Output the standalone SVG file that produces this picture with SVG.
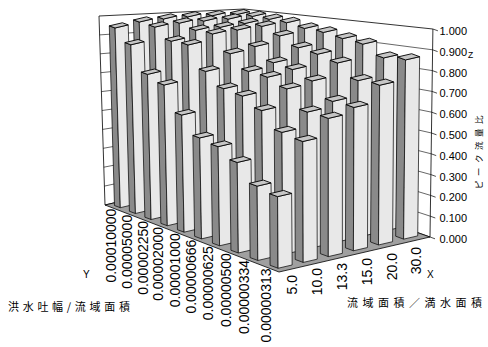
<svg xmlns="http://www.w3.org/2000/svg" width="488" height="347" viewBox="0 0 488 347">
<style>
.d{fill:#8a8a8a;stroke:#000;stroke-width:.7;stroke-linejoin:round}
.l{fill:#e8e8e8;stroke:#000;stroke-width:.7;stroke-linejoin:round}
.t{fill:#c6c6c6;stroke:#000;stroke-width:.9;stroke-linejoin:round}
.wall{fill:#fff;stroke:#000;stroke-width:.8}
.grid{fill:none;stroke:#000;stroke-width:.6}
.floor{fill:#a0a0a0;stroke:#000;stroke-width:.8}
.tick{stroke:#000;stroke-width:.7}
.num{font-family:"Liberation Sans",Arial,sans-serif;font-size:11px;fill:#000}
.ax{font-family:"Liberation Sans",Arial,sans-serif;font-size:14px;fill:#000}
.let{font-family:"Liberation Sans",Arial,sans-serif;font-size:10px;fill:#000}
.jp{font-family:"Noto Sans CJK JP","Noto Sans CJK SC",sans-serif;font-size:11px;fill:#000}
</style>
<rect width="488" height="347" fill="#fff"/>
<g id="walls">
<polygon class="wall" points="105,205 246,172 244.1,9 99,16"/>
<polygon class="wall" points="246,172 430,237 432.9,29 244.1,9"/>
<polyline class="grid" points="104.4,186.1 245.8,155.7 430.3,216.2"/>
<polyline class="grid" points="103.8,167.2 245.6,139.4 430.6,195.4"/>
<polyline class="grid" points="103.2,148.3 245.4,123.1 430.9,174.6"/>
<polyline class="grid" points="102.6,129.4 245.2,106.8 431.2,153.8"/>
<polyline class="grid" points="102.0,110.5 245.0,90.5 431.5,133.0"/>
<polyline class="grid" points="101.4,91.6 244.9,74.2 431.7,112.2"/>
<polyline class="grid" points="100.8,72.7 244.7,57.9 432.0,91.4"/>
<polyline class="grid" points="100.2,53.8 244.5,41.6 432.3,70.6"/>
<polyline class="grid" points="99.6,34.9 244.3,25.3 432.6,49.8"/>
</g>
<g id="floor"><polygon class="floor" points="279,272 430,237 246,172 105,205"/></g>
<g id="z-axis">
<line class="tick" x1="432.9" y1="29" x2="437.9" y2="30.8"/>
<line class="tick" x1="432.6" y1="49.8" x2="437.6" y2="51.6"/>
<line class="tick" x1="432.3" y1="70.6" x2="437.3" y2="72.4"/>
<line class="tick" x1="432.0" y1="91.4" x2="437.0" y2="93.2"/>
<line class="tick" x1="431.7" y1="112.2" x2="436.7" y2="114"/>
<line class="tick" x1="431.5" y1="133" x2="436.5" y2="134.8"/>
<line class="tick" x1="431.2" y1="153.8" x2="436.2" y2="155.6"/>
<line class="tick" x1="430.9" y1="174.6" x2="435.9" y2="176.4"/>
<line class="tick" x1="430.6" y1="195.4" x2="435.6" y2="197.2"/>
<line class="tick" x1="430.3" y1="216.2" x2="435.3" y2="218"/>
<line class="tick" x1="430" y1="237" x2="435" y2="238.8"/>
<text class="num" x="439.5" y="35">1.000</text>
<text class="num" x="439.5" y="55.8">0.900</text>
<text class="num" x="439.5" y="76.6">0.800</text>
<text class="num" x="439.5" y="97.4">0.700</text>
<text class="num" x="439.5" y="118.2">0.600</text>
<text class="num" x="439.5" y="139">0.500</text>
<text class="num" x="439.5" y="159.8">0.400</text>
<text class="num" x="439.5" y="180.6">0.300</text>
<text class="num" x="439.5" y="201.4">0.200</text>
<text class="num" x="439.5" y="222.2">0.100</text>
<text class="num" x="439.5" y="243">0.000</text>
<text class="let" x="468" y="58" style="font-size:8.5px">Z</text>
<text class="jp" transform="translate(482.2 150) rotate(-90)" text-anchor="middle" style="font-size:8.5px;letter-spacing:4.5px">ピーク流量比</text>
</g>
<g id="bars">
<g id="bar-r9-c0" transform="translate(120.31 207.68) skewX(1.66)"><path class="d" d="M0 0l-5.75-2.13v-179.7l5.75 2.13z"/><path class="l" d="M0 0l13.21-3.09v-179.7l-13.21 3.09z"/><path class="t" d="M0-179.7l13.21-3.09l-5.75-2.13l-13.21 3.09z"/></g>
<g id="bar-r9-c1" transform="translate(143.91 202.16) skewX(1.47)"><path class="d" d="M0 0l-5.75-2.13v-180.1l5.75 2.13z"/><path class="l" d="M0 0l13.21-3.09v-180.1l-13.21 3.09z"/><path class="t" d="M0-180.1l13.21-3.09l-5.75-2.13l-13.21 3.09z"/></g>
<g id="bar-r9-c2" transform="translate(167.5 196.64) skewX(1.28)"><path class="d" d="M0 0l-5.75-2.13v-177.6l5.75 2.13z"/><path class="l" d="M0 0l13.21-3.09v-177.6l-13.21 3.09z"/><path class="t" d="M0-177.6l13.21-3.09l-5.75-2.13l-13.21 3.09z"/></g>
<g id="bar-r9-c3" transform="translate(191.1 191.12) skewX(1.09)"><path class="d" d="M0 0l-5.75-2.13v-174.2l5.75 2.13z"/><path class="l" d="M0 0l13.21-3.09v-174.2l-13.21 3.09z"/><path class="t" d="M0-174.2l13.21-3.09l-5.75-2.13l-13.21 3.09z"/></g>
<g id="bar-r9-c4" transform="translate(214.7 185.6) skewX(0.9)"><path class="d" d="M0 0l-5.75-2.13v-169.8l5.75 2.13z"/><path class="l" d="M0 0l13.21-3.09v-169.8l-13.21 3.09z"/><path class="t" d="M0-169.8l13.21-3.09l-5.75-2.13l-13.21 3.09z"/></g>
<g id="bar-r9-c5" transform="translate(238.29 180.09) skewX(0.71)"><path class="d" d="M0 0l-5.75-2.13v-165.4l5.75 2.13z"/><path class="l" d="M0 0l13.21-3.09v-165.4l-13.21 3.09z"/><path class="t" d="M0-165.4l13.21-3.09l-5.75-2.13l-13.21 3.09z"/></g>

<g id="bar-r8-c0" transform="translate(135.44 213.49) skewX(1.54)"><path class="d" d="M0 0l-5.95-2.2v-168.7l5.95 2.2z"/><path class="l" d="M0 0l13.3-3.11v-168.7l-13.3 3.11z"/><path class="t" d="M0-168.7l13.3-3.11l-5.95-2.2l-13.3 3.11z"/></g>
<g id="bar-r8-c1" transform="translate(159.18 207.94) skewX(1.35)"><path class="d" d="M0 0l-5.95-2.2v-180.8l5.95 2.2z"/><path class="l" d="M0 0l13.3-3.11v-180.8l-13.3 3.11z"/><path class="t" d="M0-180.8l13.3-3.11l-5.95-2.2l-13.3 3.11z"/></g>
<g id="bar-r8-c2" transform="translate(182.92 202.39) skewX(1.16)"><path class="d" d="M0 0l-5.95-2.2v-179.2l5.95 2.2z"/><path class="l" d="M0 0l13.3-3.11v-179.2l-13.3 3.11z"/><path class="t" d="M0-179.2l13.3-3.11l-5.95-2.2l-13.3 3.11z"/></g>
<g id="bar-r8-c3" transform="translate(206.67 196.84) skewX(0.96)"><path class="d" d="M0 0l-5.95-2.2v-175.7l5.95 2.2z"/><path class="l" d="M0 0l13.3-3.11v-175.7l-13.3 3.11z"/><path class="t" d="M0-175.7l13.3-3.11l-5.95-2.2l-13.3 3.11z"/></g>
<g id="bar-r8-c4" transform="translate(230.41 191.3) skewX(0.77)"><path class="d" d="M0 0l-5.95-2.2v-172.1l5.95 2.2z"/><path class="l" d="M0 0l13.3-3.11v-172.1l-13.3 3.11z"/><path class="t" d="M0-172.1l13.3-3.11l-5.95-2.2l-13.3 3.11z"/></g>
<g id="bar-r8-c5" transform="translate(254.15 185.75) skewX(0.58)"><path class="d" d="M0 0l-5.95-2.2v-169.3l5.95 2.2z"/><path class="l" d="M0 0l13.3-3.11v-169.3l-13.3 3.11z"/><path class="t" d="M0-169.3l13.3-3.11l-5.95-2.2l-13.3 3.11z"/></g>

<g id="bar-r7-c0" transform="translate(151.09 219.5) skewX(1.41)"><path class="d" d="M0 0l-6.15-2.28v-145.1l6.15 2.28z"/><path class="l" d="M0 0l13.38-3.12v-145.1l-13.38 3.12z"/><path class="t" d="M0-145.1l13.38-3.12l-6.15-2.28l-13.38 3.12z"/></g>
<g id="bar-r7-c1" transform="translate(174.98 213.92) skewX(1.22)"><path class="d" d="M0 0l-6.15-2.28v-172.7l6.15 2.28z"/><path class="l" d="M0 0l13.38-3.12v-172.7l-13.38 3.12z"/><path class="t" d="M0-172.7l13.38-3.12l-6.15-2.28l-13.38 3.12z"/></g>
<g id="bar-r7-c2" transform="translate(198.87 208.34) skewX(1.03)"><path class="d" d="M0 0l-6.15-2.28v-178l6.15 2.28z"/><path class="l" d="M0 0l13.38-3.12v-178l-13.38 3.12z"/><path class="t" d="M0-178l13.38-3.12l-6.15-2.28l-13.38 3.12z"/></g>
<g id="bar-r7-c3" transform="translate(222.76 202.77) skewX(0.84)"><path class="d" d="M0 0l-6.15-2.28v-175.4l6.15 2.28z"/><path class="l" d="M0 0l13.38-3.12v-175.4l-13.38 3.12z"/><path class="t" d="M0-175.4l13.38-3.12l-6.15-2.28l-13.38 3.12z"/></g>
<g id="bar-r7-c4" transform="translate(246.65 197.19) skewX(0.64)"><path class="d" d="M0 0l-6.15-2.28v-173.6l6.15 2.28z"/><path class="l" d="M0 0l13.38-3.12v-173.6l-13.38 3.12z"/><path class="t" d="M0-173.6l13.38-3.12l-6.15-2.28l-13.38 3.12z"/></g>
<g id="bar-r7-c5" transform="translate(270.55 191.61) skewX(0.45)"><path class="d" d="M0 0l-6.15-2.28v-172.2l6.15 2.28z"/><path class="l" d="M0 0l13.38-3.12v-172.2l-13.38 3.12z"/><path class="t" d="M0-172.2l13.38-3.12l-6.15-2.28l-13.38 3.12z"/></g>

<g id="bar-r6-c0" transform="translate(167.3 225.72) skewX(1.28)"><path class="d" d="M0 0l-6.37-2.36v-140.7l6.37 2.36z"/><path class="l" d="M0 0l13.47-3.14v-140.7l-13.47 3.14z"/><path class="t" d="M0-140.7l13.47-3.14l-6.37-2.36l-13.47 3.14z"/></g>
<g id="bar-r6-c1" transform="translate(191.35 220.11) skewX(1.09)"><path class="d" d="M0 0l-6.37-2.36v-175.1l6.37 2.36z"/><path class="l" d="M0 0l13.47-3.14v-175.1l-13.47 3.14z"/><path class="t" d="M0-175.1l13.47-3.14l-6.37-2.36l-13.47 3.14z"/></g>
<g id="bar-r6-c2" transform="translate(215.39 214.5) skewX(0.9)"><path class="d" d="M0 0l-6.37-2.36v-180.5l6.37 2.36z"/><path class="l" d="M0 0l13.47-3.14v-180.5l-13.47 3.14z"/><path class="t" d="M0-180.5l13.47-3.14l-6.37-2.36l-13.47 3.14z"/></g>
<g id="bar-r6-c3" transform="translate(239.44 208.89) skewX(0.7)"><path class="d" d="M0 0l-6.37-2.36v-178.8l6.37 2.36z"/><path class="l" d="M0 0l13.47-3.14v-178.8l-13.47 3.14z"/><path class="t" d="M0-178.8l13.47-3.14l-6.37-2.36l-13.47 3.14z"/></g>
<g id="bar-r6-c4" transform="translate(263.48 203.28) skewX(0.51)"><path class="d" d="M0 0l-6.37-2.36v-176.9l6.37 2.36z"/><path class="l" d="M0 0l13.47-3.14v-176.9l-13.47 3.14z"/><path class="t" d="M0-176.9l13.47-3.14l-6.37-2.36l-13.47 3.14z"/></g>
<g id="bar-r6-c5" transform="translate(287.53 197.67) skewX(0.32)"><path class="d" d="M0 0l-6.37-2.36v-174.9l6.37 2.36z"/><path class="l" d="M0 0l13.47-3.14v-174.9l-13.47 3.14z"/><path class="t" d="M0-174.9l13.47-3.14l-6.37-2.36l-13.47 3.14z"/></g>

<g id="bar-r5-c0" transform="translate(184.1 232.17) skewX(1.15)"><path class="d" d="M0 0l-6.61-2.45v-117.1l6.61 2.45z"/><path class="l" d="M0 0l13.56-3.16v-117.1l-13.56 3.16z"/><path class="t" d="M0-117.1l13.56-3.16l-6.61-2.45l-13.56 3.16z"/></g>
<g id="bar-r5-c1" transform="translate(208.31 226.53) skewX(0.95)"><path class="d" d="M0 0l-6.61-2.45v-155.1l6.61 2.45z"/><path class="l" d="M0 0l13.56-3.16v-155.1l-13.56 3.16z"/><path class="t" d="M0-155.1l13.56-3.16l-6.61-2.45l-13.56 3.16z"/></g>
<g id="bar-r5-c2" transform="translate(232.51 220.89) skewX(0.76)"><path class="d" d="M0 0l-6.61-2.45v-167.2l6.61 2.45z"/><path class="l" d="M0 0l13.56-3.16v-167.2l-13.56 3.16z"/><path class="t" d="M0-167.2l13.56-3.16l-6.61-2.45l-13.56 3.16z"/></g>
<g id="bar-r5-c3" transform="translate(256.72 215.25) skewX(0.56)"><path class="d" d="M0 0l-6.61-2.45v-168.7l6.61 2.45z"/><path class="l" d="M0 0l13.56-3.16v-168.7l-13.56 3.16z"/><path class="t" d="M0-168.7l13.56-3.16l-6.61-2.45l-13.56 3.16z"/></g>
<g id="bar-r5-c4" transform="translate(280.93 209.61) skewX(0.37)"><path class="d" d="M0 0l-6.61-2.45v-173.7l6.61 2.45z"/><path class="l" d="M0 0l13.56-3.16v-173.7l-13.56 3.16z"/><path class="t" d="M0-173.7l13.56-3.16l-6.61-2.45l-13.56 3.16z"/></g>
<g id="bar-r5-c5" transform="translate(305.14 203.97) skewX(0.18)"><path class="d" d="M0 0l-6.61-2.45v-175.5l6.61 2.45z"/><path class="l" d="M0 0l13.56-3.16v-175.5l-13.56 3.16z"/><path class="t" d="M0-175.5l13.56-3.16l-6.61-2.45l-13.56 3.16z"/></g>

<g id="bar-r4-c0" transform="translate(201.51 238.85) skewX(1.01)"><path class="d" d="M0 0l-6.85-2.54v-100.9l6.85 2.54z"/><path class="l" d="M0 0l13.65-3.18v-100.9l-13.65 3.18z"/><path class="t" d="M0-100.9l13.65-3.18l-6.85-2.54l-13.65 3.18z"/></g>
<g id="bar-r4-c1" transform="translate(225.88 233.18) skewX(0.81)"><path class="d" d="M0 0l-6.85-2.54v-144.5l6.85 2.54z"/><path class="l" d="M0 0l13.65-3.18v-144.5l-13.65 3.18z"/><path class="t" d="M0-144.5l13.65-3.18l-6.85-2.54l-13.65 3.18z"/></g>
<g id="bar-r4-c2" transform="translate(250.26 227.5) skewX(0.62)"><path class="d" d="M0 0l-6.85-2.54v-156.1l6.85 2.54z"/><path class="l" d="M0 0l13.65-3.18v-156.1l-13.65 3.18z"/><path class="t" d="M0-156.1l13.65-3.18l-6.85-2.54l-13.65 3.18z"/></g>
<g id="bar-r4-c3" transform="translate(274.63 221.83) skewX(0.42)"><path class="d" d="M0 0l-6.85-2.54v-159.1l6.85 2.54z"/><path class="l" d="M0 0l13.65-3.18v-159.1l-13.65 3.18z"/><path class="t" d="M0-159.1l13.65-3.18l-6.85-2.54l-13.65 3.18z"/></g>
<g id="bar-r4-c4" transform="translate(299 216.15) skewX(0.22)"><path class="d" d="M0 0l-6.85-2.54v-168.4l6.85 2.54z"/><path class="l" d="M0 0l13.65-3.18v-168.4l-13.65 3.18z"/><path class="t" d="M0-168.4l13.65-3.18l-6.85-2.54l-13.65 3.18z"/></g>
<g id="bar-r4-c5" transform="translate(323.38 210.48) skewX(0.03)"><path class="d" d="M0 0l-6.85-2.54v-178l6.85 2.54z"/><path class="l" d="M0 0l13.65-3.18v-178l-13.65 3.18z"/><path class="t" d="M0-178l13.65-3.18l-6.85-2.54l-13.65 3.18z"/></g>

<g id="bar-r3-c0" transform="translate(219.58 245.78) skewX(0.86)"><path class="d" d="M0 0l-7.11-2.63v-99.1l7.11 2.63z"/><path class="l" d="M0 0l13.75-3.2v-99.1l-13.75 3.2z"/><path class="t" d="M0-99.1l13.75-3.2l-7.11-2.63l-13.75 3.2z"/></g>
<g id="bar-r3-c1" transform="translate(244.13 240.07) skewX(0.66)"><path class="d" d="M0 0l-7.11-2.63v-144l7.11 2.63z"/><path class="l" d="M0 0l13.75-3.2v-144l-13.75 3.2z"/><path class="t" d="M0-144l13.75-3.2l-7.11-2.63l-13.75 3.2z"/></g>
<g id="bar-r3-c2" transform="translate(268.67 234.36) skewX(0.47)"><path class="d" d="M0 0l-7.11-2.63v-157.1l7.11 2.63z"/><path class="l" d="M0 0l13.75-3.2v-157.1l-13.75 3.2z"/><path class="t" d="M0-157.1l13.75-3.2l-7.11-2.63l-13.75 3.2z"/></g>
<g id="bar-r3-c3" transform="translate(293.22 228.65) skewX(0.27)"><path class="d" d="M0 0l-7.11-2.63v-159.1l7.11 2.63z"/><path class="l" d="M0 0l13.75-3.2v-159.1l-13.75 3.2z"/><path class="t" d="M0-159.1l13.75-3.2l-7.11-2.63l-13.75 3.2z"/></g>
<g id="bar-r3-c4" transform="translate(317.76 222.94) skewX(0.07)"><path class="d" d="M0 0l-7.11-2.63v-168.7l7.11 2.63z"/><path class="l" d="M0 0l13.75-3.2v-168.7l-13.75 3.2z"/><path class="t" d="M0-168.7l13.75-3.2l-7.11-2.63l-13.75 3.2z"/></g>
<g id="bar-r3-c5" transform="translate(342.31 217.24) skewX(-0.12)"><path class="d" d="M0 0l-7.11-2.63v-178.6l7.11 2.63z"/><path class="l" d="M0 0l13.75-3.2v-178.6l-13.75 3.2z"/><path class="t" d="M0-178.6l13.75-3.2l-7.11-2.63l-13.75 3.2z"/></g>

<g id="bar-r2-c0" transform="translate(238.34 252.98) skewX(0.71)"><path class="d" d="M0 0l-7.38-2.73v-90.5l7.38 2.73z"/><path class="l" d="M0 0l13.85-3.22v-90.5l-13.85 3.22z"/><path class="t" d="M0-90.5l13.85-3.22l-7.38-2.73l-13.85 3.22z"/></g>
<g id="bar-r2-c1" transform="translate(263.07 247.24) skewX(0.51)"><path class="d" d="M0 0l-7.38-2.73v-136.7l7.38 2.73z"/><path class="l" d="M0 0l13.85-3.22v-136.7l-13.85 3.22z"/><path class="t" d="M0-136.7l13.85-3.22l-7.38-2.73l-13.85 3.22z"/></g>
<g id="bar-r2-c2" transform="translate(287.79 241.49) skewX(0.31)"><path class="d" d="M0 0l-7.38-2.73v-152.6l7.38 2.73z"/><path class="l" d="M0 0l13.85-3.22v-152.6l-13.85 3.22z"/><path class="t" d="M0-152.6l13.85-3.22l-7.38-2.73l-13.85 3.22z"/></g>
<g id="bar-r2-c3" transform="translate(312.52 235.75) skewX(0.12)"><path class="d" d="M0 0l-7.38-2.73v-154.8l7.38 2.73z"/><path class="l" d="M0 0l13.85-3.22v-154.8l-13.85 3.22z"/><path class="t" d="M0-154.8l13.85-3.22l-7.38-2.73l-13.85 3.22z"/></g>
<g id="bar-r2-c4" transform="translate(337.24 230) skewX(-0.08)"><path class="d" d="M0 0l-7.38-2.73v-167l7.38 2.73z"/><path class="l" d="M0 0l13.85-3.22v-167l-13.85 3.22z"/><path class="t" d="M0-167l13.85-3.22l-7.38-2.73l-13.85 3.22z"/></g>
<g id="bar-r2-c5" transform="translate(361.97 224.26) skewX(-0.28)"><path class="d" d="M0 0l-7.38-2.73v-180.1l7.38 2.73z"/><path class="l" d="M0 0l13.85-3.22v-180.1l-13.85 3.22z"/><path class="t" d="M0-180.1l13.85-3.22l-7.38-2.73l-13.85 3.22z"/></g>

<g id="bar-r1-c0" transform="translate(257.83 260.46) skewX(0.55)"><path class="d" d="M0 0l-7.67-2.84v-74.3l7.67 2.84z"/><path class="l" d="M0 0l13.95-3.24v-74.3l-13.95 3.24z"/><path class="t" d="M0-74.3l13.95-3.24l-7.67-2.84l-13.95 3.24z"/></g>
<g id="bar-r1-c1" transform="translate(282.74 254.68) skewX(0.36)"><path class="d" d="M0 0l-7.67-2.84v-122.3l7.67 2.84z"/><path class="l" d="M0 0l13.95-3.24v-122.3l-13.95 3.24z"/><path class="t" d="M0-122.3l13.95-3.24l-7.67-2.84l-13.95 3.24z"/></g>
<g id="bar-r1-c2" transform="translate(307.65 248.9) skewX(0.15)"><path class="d" d="M0 0l-7.67-2.84v-136.8l7.67 2.84z"/><path class="l" d="M0 0l13.95-3.24v-136.8l-13.95 3.24z"/><path class="t" d="M0-136.8l13.95-3.24l-7.67-2.84l-13.95 3.24z"/></g>
<g id="bar-r1-c3" transform="translate(332.57 243.11) skewX(-0.04)"><path class="d" d="M0 0l-7.67-2.84v-141.7l7.67 2.84z"/><path class="l" d="M0 0l13.95-3.24v-141.7l-13.95 3.24z"/><path class="t" d="M0-141.7l13.95-3.24l-7.67-2.84l-13.95 3.24z"/></g>
<g id="bar-r1-c4" transform="translate(357.48 237.33) skewX(-0.24)"><path class="d" d="M0 0l-7.67-2.84v-156.7l7.67 2.84z"/><path class="l" d="M0 0l13.95-3.24v-156.7l-13.95 3.24z"/><path class="t" d="M0-156.7l13.95-3.24l-7.67-2.84l-13.95 3.24z"/></g>
<g id="bar-r1-c5" transform="translate(382.39 231.55) skewX(-0.44)"><path class="d" d="M0 0l-7.67-2.84v-173.6l7.67 2.84z"/><path class="l" d="M0 0l13.95-3.24v-173.6l-13.95 3.24z"/><path class="t" d="M0-173.6l13.95-3.24l-7.67-2.84l-13.95 3.24z"/></g>

<g id="bar-r0-c0" transform="translate(278.09 268.24) skewX(0.39)"><path class="d" d="M0 0l-7.98-2.95v-71.6l7.98 2.95z"/><path class="l" d="M0 0l14.06-3.26v-71.6l-14.06 3.26z"/><path class="t" d="M0-71.6l14.06-3.26l-7.98-2.95l-14.06 3.26z"/></g>
<g id="bar-r0-c1" transform="translate(303.2 262.42) skewX(0.19)"><path class="d" d="M0 0l-7.98-2.95v-120.9l7.98 2.95z"/><path class="l" d="M0 0l14.06-3.26v-120.9l-14.06 3.26z"/><path class="t" d="M0-120.9l14.06-3.26l-7.98-2.95l-14.06 3.26z"/></g>
<g id="bar-r0-c2" transform="translate(328.3 256.6) skewX(-0.01)"><path class="d" d="M0 0l-7.98-2.95v-138.2l7.98 2.95z"/><path class="l" d="M0 0l14.06-3.26v-138.2l-14.06 3.26z"/><path class="t" d="M0-138.2l14.06-3.26l-7.98-2.95l-14.06 3.26z"/></g>
<g id="bar-r0-c3" transform="translate(353.41 250.78) skewX(-0.21)"><path class="d" d="M0 0l-7.98-2.95v-143.3l7.98 2.95z"/><path class="l" d="M0 0l14.06-3.26v-143.3l-14.06 3.26z"/><path class="t" d="M0-143.3l14.06-3.26l-7.98-2.95l-14.06 3.26z"/></g>
<g id="bar-r0-c4" transform="translate(378.51 244.96) skewX(-0.41)"><path class="d" d="M0 0l-7.98-2.95v-159.7l7.98 2.95z"/><path class="l" d="M0 0l14.06-3.26v-159.7l-14.06 3.26z"/><path class="t" d="M0-159.7l14.06-3.26l-7.98-2.95l-14.06 3.26z"/></g>
<g id="bar-r0-c5" transform="translate(403.62 239.14) skewX(-0.61)"><path class="d" d="M0 0l-7.98-2.95v-179.2l7.98 2.95z"/><path class="l" d="M0 0l14.06-3.26v-179.2l-14.06 3.26z"/><path class="t" d="M0-179.2l14.06-3.26l-7.98-2.95l-14.06 3.26z"/></g>
</g>
<g id="y-axis">
<text class="ax" transform="translate(115.5 208.6) rotate(-90)" text-anchor="end">0.00010000</text>
<text class="ax" transform="translate(131.5 214.8) rotate(-90)" text-anchor="end">0.00005000</text>
<text class="ax" transform="translate(147.5 220.9) rotate(-90)" text-anchor="end">0.00002250</text>
<text class="ax" transform="translate(163 226.9) rotate(-90)" text-anchor="end">0.00002000</text>
<text class="ax" transform="translate(179.5 233.3) rotate(-90)" text-anchor="end">0.00001000</text>
<text class="ax" transform="translate(196 239.6) rotate(-90)" text-anchor="end">0.00000666</text>
<text class="ax" transform="translate(213 246.2) rotate(-90)" text-anchor="end">0.00000625</text>
<text class="ax" transform="translate(231 253.1) rotate(-90)" text-anchor="end">0.00000500</text>
<text class="ax" transform="translate(249 260) rotate(-90)" text-anchor="end">0.00000334</text>
<text class="ax" transform="translate(271 268.5) rotate(-90)" text-anchor="end">0.00000313</text>
<text class="let" x="83" y="277.5">Y</text>
<text class="jp" x="8" y="310.5" style="letter-spacing:3.7px">洪水吐幅/流域面積</text>
</g>
<g id="x-axis">
<text class="ax" transform="translate(297 275) rotate(-90)" text-anchor="end">5.0</text>
<text class="ax" transform="translate(322 268) rotate(-90)" text-anchor="end">10.0</text>
<text class="ax" transform="translate(347 263) rotate(-90)" text-anchor="end">13.3</text>
<text class="ax" transform="translate(372 258) rotate(-90)" text-anchor="end">15.0</text>
<text class="ax" transform="translate(397 253) rotate(-90)" text-anchor="end">20.0</text>
<text class="ax" transform="translate(421 247) rotate(-90)" text-anchor="end">30.0</text>
<text class="let" x="427" y="277.5">X</text>
<text class="jp" x="347" y="307" style="letter-spacing:4.5px">流域面積／満水面積</text>
</g>
</svg>
